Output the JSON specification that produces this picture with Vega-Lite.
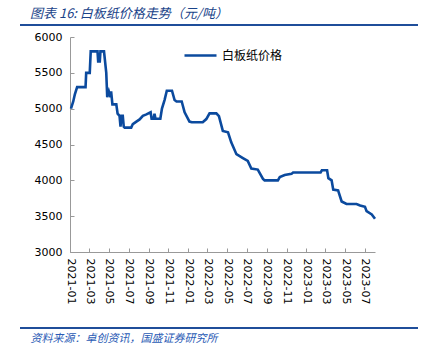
{
  "$schema": "https://vega.github.io/schema/vega-lite/v6.json",
  "autosize": "none",
  "width": 305,
  "height": 215,
  "padding": {"left": 70, "top": 37, "right": 51, "bottom": 112},
  "background": "white",
  "config": {"view": {"stroke": null}, "font": "DejaVu Sans"},
  "title": {
    "text": "图表 16:  白板纸价格走势（元/吨）",
    "anchor": "start",
    "frame": "group",
    "dx": -40,
    "dy": 6,
    "offset": 9,
    "font": "Noto Sans CJK SC",
    "fontStyle": "italic",
    "fontWeight": "normal",
    "fontSize": 13,
    "color": "#1A4389"
  },
  "datasets": {
    "price": [
      {"date": "2021-01-04", "v": 5000},
      {"date": "2021-01-11", "v": 5100},
      {"date": "2021-01-16", "v": 5200},
      {"date": "2021-01-23", "v": 5300},
      {"date": "2021-02-18", "v": 5300},
      {"date": "2021-02-20", "v": 5500},
      {"date": "2021-03-03", "v": 5500},
      {"date": "2021-03-06", "v": 5800},
      {"date": "2021-03-27", "v": 5800},
      {"date": "2021-03-29", "v": 5660},
      {"date": "2021-04-03", "v": 5660},
      {"date": "2021-04-05", "v": 5800},
      {"date": "2021-04-16", "v": 5800},
      {"date": "2021-04-23", "v": 5500},
      {"date": "2021-04-26", "v": 5160},
      {"date": "2021-05-01", "v": 5240},
      {"date": "2021-05-06", "v": 5160},
      {"date": "2021-05-08", "v": 5240},
      {"date": "2021-05-12", "v": 5060},
      {"date": "2021-05-24", "v": 5060},
      {"date": "2021-05-28", "v": 4930},
      {"date": "2021-06-03", "v": 4900},
      {"date": "2021-06-06", "v": 4750},
      {"date": "2021-06-09", "v": 4900},
      {"date": "2021-06-13", "v": 4900},
      {"date": "2021-06-16", "v": 4750},
      {"date": "2021-06-19", "v": 4735},
      {"date": "2021-07-09", "v": 4735},
      {"date": "2021-07-14", "v": 4785},
      {"date": "2021-07-25", "v": 4820},
      {"date": "2021-08-04", "v": 4850},
      {"date": "2021-08-14", "v": 4900},
      {"date": "2021-08-25", "v": 4920},
      {"date": "2021-09-07", "v": 4950},
      {"date": "2021-09-10", "v": 4860},
      {"date": "2021-09-16", "v": 4860},
      {"date": "2021-09-19", "v": 4930},
      {"date": "2021-09-22", "v": 4860},
      {"date": "2021-10-07", "v": 4860},
      {"date": "2021-10-12", "v": 5000},
      {"date": "2021-10-20", "v": 5120},
      {"date": "2021-10-27", "v": 5250},
      {"date": "2021-11-12", "v": 5250},
      {"date": "2021-11-20", "v": 5120},
      {"date": "2021-11-26", "v": 5100},
      {"date": "2021-12-12", "v": 5100},
      {"date": "2021-12-21", "v": 4950},
      {"date": "2022-01-05", "v": 4820},
      {"date": "2022-01-12", "v": 4810},
      {"date": "2022-02-15", "v": 4810},
      {"date": "2022-02-26", "v": 4855},
      {"date": "2022-03-08", "v": 4935},
      {"date": "2022-03-29", "v": 4935},
      {"date": "2022-04-06", "v": 4895},
      {"date": "2022-04-18", "v": 4690},
      {"date": "2022-05-04", "v": 4670},
      {"date": "2022-05-14", "v": 4530},
      {"date": "2022-05-30", "v": 4365},
      {"date": "2022-06-19", "v": 4310},
      {"date": "2022-07-04", "v": 4270},
      {"date": "2022-07-15", "v": 4165},
      {"date": "2022-08-04", "v": 4150},
      {"date": "2022-08-20", "v": 4020},
      {"date": "2022-08-25", "v": 4000},
      {"date": "2022-10-05", "v": 4000},
      {"date": "2022-10-11", "v": 4045},
      {"date": "2022-10-26", "v": 4075},
      {"date": "2022-11-16", "v": 4090},
      {"date": "2022-11-21", "v": 4110},
      {"date": "2023-02-14", "v": 4110},
      {"date": "2023-02-18", "v": 4140},
      {"date": "2023-03-06", "v": 4140},
      {"date": "2023-03-10", "v": 4030},
      {"date": "2023-03-20", "v": 4000},
      {"date": "2023-03-25", "v": 3870},
      {"date": "2023-04-09", "v": 3860},
      {"date": "2023-04-20", "v": 3705},
      {"date": "2023-05-05", "v": 3670},
      {"date": "2023-06-05", "v": 3670},
      {"date": "2023-06-16", "v": 3650},
      {"date": "2023-07-01", "v": 3630},
      {"date": "2023-07-06", "v": 3570},
      {"date": "2023-07-22", "v": 3525},
      {"date": "2023-08-01", "v": 3465}
    ]
  },
  "layer": [
    {
      "data": {"values": [{}]},
      "mark": {"type": "rule", "color": "#1F4E9A", "strokeWidth": 2},
      "encoding": {"x": {"value": -50}, "x2": {"value": 348}, "y": {"value": -12}}
    },
    {
      "data": {"values": [{}]},
      "mark": {"type": "rule", "color": "#1F4E9A", "strokeWidth": 2},
      "encoding": {"x": {"value": -50}, "x2": {"value": 348}, "y": {"value": 291}}
    },
    {
      "data": {"name": "price"},
      "mark": {"type": "line", "strokeWidth": 2.6, "color": "#0B4A9E", "clip": false},
      "encoding": {
        "x": {
          "field": "date",
          "type": "temporal",
          "scale": {"domain": ["2021-01-01", "2023-08-01"]},
          "axis": {
            "values": ["2021-01-01", "2021-03-01", "2021-05-01", "2021-07-01", "2021-09-01", "2021-11-01", "2022-01-01", "2022-03-01", "2022-05-01", "2022-07-01", "2022-09-01", "2022-11-01", "2023-01-01", "2023-03-01", "2023-05-01", "2023-07-01"],
            "format": "%Y-%m",
            "labelAngle": 90,
            "labelAlign": "left",
            "labelBaseline": "middle",
            "labelFontSize": 11,
            "labelColor": "#000000",
            "labelPadding": 10,
            "labelFlush": false,
            "labelOverlap": false,
            "tickSize": -4,
            "tickColor": "#999999",
            "domainColor": "#999999",
            "grid": false,
            "title": "资料来源：卓创资讯，国盛证券研究所",
            "titleFont": "Noto Sans CJK SC",
            "titleFontStyle": "italic",
            "titleFontWeight": "normal",
            "titleFontSize": 11,
            "titleColor": "#2A5BB5",
            "titleAnchor": "start",
            "titleAlign": "left",
            "titleBaseline": "middle",
            "titleX": -40,
            "titleY": 86
          }
        },
        "y": {
          "field": "v",
          "type": "quantitative",
          "scale": {"domain": [3000, 6000], "nice": false, "zero": false},
          "axis": {
            "values": [3000, 3500, 4000, 4500, 5000, 5500, 6000],
            "format": "d",
            "labelFontSize": 11,
            "labelColor": "#000000",
            "labelPadding": 12,
            "tickSize": -4,
            "tickColor": "#999999",
            "domainColor": "#999999",
            "grid": false,
            "title": null
          }
        },
        "color": {
          "datum": "白板纸价格",
          "type": "nominal",
          "scale": {"range": ["#0B4A9E"]},
          "legend": {
            "orient": "none",
            "legendX": 113,
            "legendY": 1,
            "title": null,
            "symbolType": "stroke",
            "symbolSize": 1024,
            "symbolStrokeWidth": 2.5,
            "labelFont": "Noto Sans CJK SC",
            "labelFontSize": 12,
            "labelColor": "#000000",
            "labelOffset": 4
          }
        }
      }
    }
  ]
}
